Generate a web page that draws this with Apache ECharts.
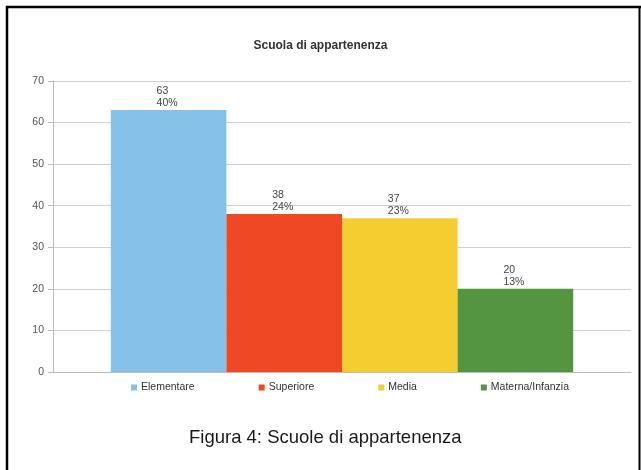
<!DOCTYPE html>
<html>
<head>
<meta charset="utf-8">
<script src="https://cdn.jsdelivr.net/npm/echarts@6/dist/echarts.min.js"></script>
<style>
  html, body { margin: 0; padding: 0; background: #fff; }
  #chart { width: 641px; height: 470px; }
</style>
</head>
<body>
<div id="chart"></div>
<script>
var categories = ['Scuola']
var seriesNames = ['Elementare', 'Superiore', 'Media', 'Materna/Infanzia']
var seriesValues = [63, 38, 37, 20]
var barColors = ['#85c1e9', '#ef4824', '#f5cd30', '#54963f']
var yTicks = [0, 10, 20, 30, 40, 50, 60, 70]

var total = seriesValues.reduce(function(a, b) { return a + b }, 0)

var chart = echarts.init(document.getElementById('chart'))

var series = seriesNames.map(function(name, i) {
  return {
    name: name,
    type: 'bar',
    barGap: 0,
    barCategoryGap: '20%',
    data: [seriesValues[i]],
    itemStyle: { color: barColors[i] },
    label: {
      show: true,
      position: 'top',
      distance: 1,
      formatter: function(p) {
        return '{a|' + p.value + '}\n{a|' + Math.round(p.value / total * 100) + '%}'
      },
      rich: {
        a: {
          width: 24,
          align: 'left',
          color: '#444',
          fontSize: 10.5,
          lineHeight: 12,
          fontFamily: 'Liberation Sans, Arial, sans-serif'
        }
      }
    }
  }
})

chart.setOption({
  animation: false,
  title: {
    text: 'Scuola di appartenenza',
    left: 'center',
    top: 35,
    textStyle: {
      fontFamily: 'Liberation Sans, Arial, sans-serif',
      fontSize: 12,
      fontWeight: 'bold',
      color: '#333'
    }
  },
  legend: {
    left: 131,
    top: 382,
    padding: 0,
    itemWidth: 6,
    itemHeight: 6,
    itemGap: 64,
    icon: 'rect',
    textStyle: {
      fontFamily: 'Liberation Sans, Arial, sans-serif',
      fontSize: 10.5,
      color: '#333',
      padding: [0, 0, 0, -1]
    },
    data: seriesNames
  },
  grid: {
    left: 53,
    right: 10,
    top: 81,
    bottom: 98
  },
  xAxis: {
    type: 'category',
    data: categories,
    axisLine: { lineStyle: { color: '#bbb' } },
    axisTick: { show: false },
    axisLabel: { show: false }
  },
  yAxis: {
    type: 'value',
    min: yTicks[0],
    max: yTicks[yTicks.length - 1],
    interval: 10,
    axisLine: { show: true, lineStyle: { color: '#bbb' } },
    axisTick: { show: true, length: 5, lineStyle: { color: '#bbb' } },
    axisLabel: {
      margin: 9,
      color: '#555',
      fontSize: 10.5,
      fontFamily: 'Liberation Sans, Arial, sans-serif'
    },
    splitLine: { lineStyle: { color: '#d0d0d0' } }
  },
  graphic: [
    // page frame (left, top, right edges)
    { type: 'line', shape: { x1: 7, y1: 6, x2: 7, y2: 470 }, style: { stroke: '#000', lineWidth: 2.5 } },
    { type: 'line', shape: { x1: 6, y1: 7, x2: 641, y2: 7 }, style: { stroke: '#000', lineWidth: 2.5 } },
    { type: 'line', shape: { x1: 639.5, y1: 6, x2: 639.5, y2: 470 }, style: { stroke: '#000', lineWidth: 2 } },
    {
      type: 'text',
      left: 189,
      top: 428,
      style: {
        text: 'Figura 4: Scuole di appartenenza',
        fontFamily: 'Liberation Sans, Arial, sans-serif',
        fontSize: 18.5,
        fill: '#1a1a1a'
      }
    }
  ],
  series: series
})
</script>
</body>
</html>
